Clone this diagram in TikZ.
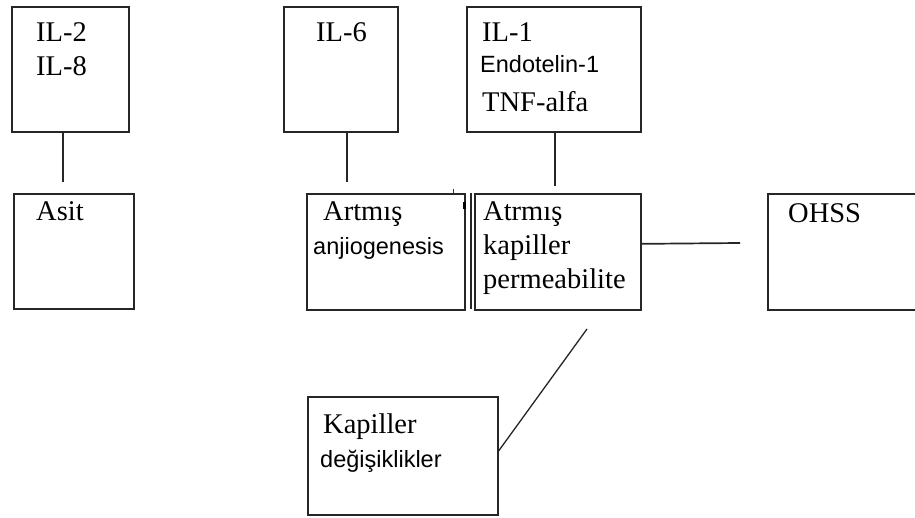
\documentclass[tikz,border=0pt]{standalone}
\usepackage{fontspec}
\setmainfont{Liberation Serif}
\newfontfamily\sansf{Liberation Sans}
\begin{document}
\begin{tikzpicture}[x=1pt,y=-1pt,
  box/.style={draw=black!85,line width=1.7pt,rectangle,inner sep=0pt,anchor=north west},
  link/.style={draw=black!85,line width=1.7pt},
  serif/.style={anchor=base west,inner sep=0pt,font=\fontsize{28.5}{31}\selectfont},
  sans/.style={anchor=base west,inner sep=0pt,font=\sansf\fontsize{23.5}{26}\selectfont}]
\useasboundingbox (0,0) rectangle (915,518);
\clip (0,0) rectangle (915,518);
\fill[white] (0,0) rectangle (915,518);

% top row of boxes
\node[box,minimum width=117pt,minimum height=125pt] (il28) at (11,6) {};
\node[box,minimum width=114pt,minimum height=125pt] (il6) at (283,6) {};
\node[box,minimum width=174pt,minimum height=125pt] (il1) at (466,6) {};

% middle row of boxes
\node[box,minimum width=120pt,minimum height=115pt] (asit) at (13,193) {};
\node[box,minimum width=158pt,minimum height=116pt] (angio) at (306,193) {};
\node[box,minimum width=166pt,minimum height=116pt] (perm) at (474,193) {};
\node[box,minimum width=160pt,minimum height=116pt] (ohss) at (767,193) {};

% bottom box
\node[box,minimum width=190pt,minimum height=118pt] (kap) at (307,396) {};

% texts
\node[serif] (t1) at (36,42) {IL-2};
\node[serif] (t2) at (36,76) {IL-8};
\node[serif] (t3) at (316,42) {IL-6};
\node[serif] (t4) at (482,42) {IL-1};
\node[sans]  (t5) at (480,73) {Endotelin-1};
\node[serif] (t6) at (482,112) {TNF-alfa};
\node[serif] (t7) at (36,221) {Asit};
\node[serif] (t8) at (323,221) {Artmış};
\node[sans]  (t9) at (313,255) {anjiogenesis};
\node[serif] (t10) at (483,221) {Atrmış};
\node[serif] (t11) at (483,255) {kapiller};
\node[serif] (t12) at (483,289) {permeabilite};
\node[serif] (t13) at (788,223) {OHSS};
\node[serif] (t14) at (323,433) {Kapiller};
\node[sans]  (t15) at (320,467) {değişiklikler};

% free ends of the connectors
\coordinate (e1) at (63,182);
\coordinate (e2) at (347,182);
\coordinate (e3) at (555,186);
\coordinate (e4) at (740,243);
\coordinate (e5) at (587,329);

% connectors
\draw[link] (il28.south -| e1) -- (e1);
\draw[link] (il6.south -| e2) -- (e2);
\draw[link] (il1.south -| e3) -- (e3);
\draw[link] ([yshift=8pt]perm.east) -- (e4);
\draw[link,line width=1.3pt] ([yshift=5pt]kap.east) -- (e5);

% doubled edge between the two middle boxes
\coordinate (d1) at (471,193);
\coordinate (d2) at (471,309);
\draw[link,line width=1.3pt] (d1) -- (d2);
\coordinate (m1) at (464.5,202);
\coordinate (m2) at (464.5,209);
\draw[line width=2.4pt,black] (m1) -- (m2);
\coordinate (k1) at (453,189);
\coordinate (k2) at (453,193);
\draw[line width=1pt,black!80] (k1) -- (k2);
\end{tikzpicture}
\end{document}
